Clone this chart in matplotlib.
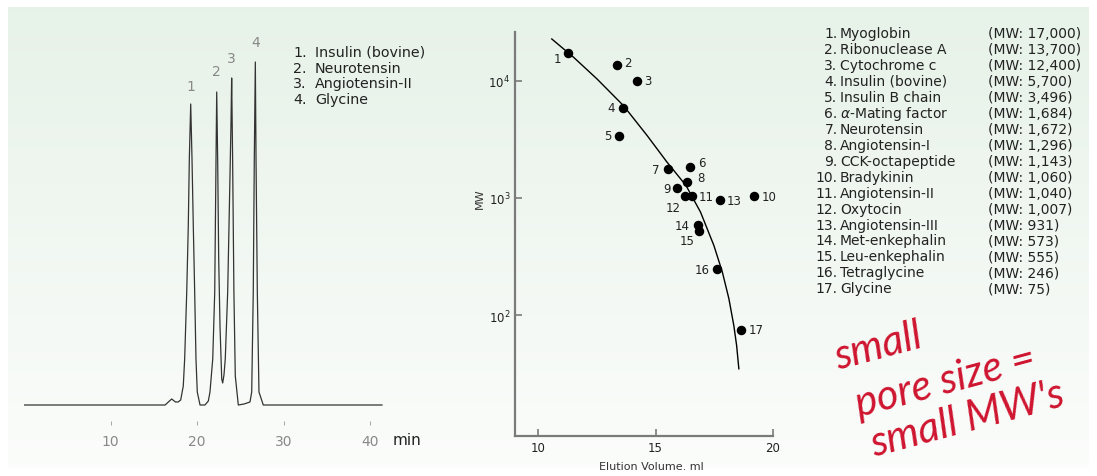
import matplotlib.pyplot as plt
import numpy as np
from matplotlib.ticker import FixedLocator, NullLocator

# chromatogram trace (min, detector signal in arbitrary units)
trace_t = [0, 16.3, 16.8, 17.06, 17.5, 17.8, 18.1, 18.4, 18.56, 18.8, 18.98, 19.1,
           19.26, 19.41, 19.56, 19.72, 19.87, 20.02, 20.34, 20.91, 21.3, 21.49, 21.81,
           22.04, 22.19, 22.27, 22.38, 22.5, 22.65, 22.85, 22.96, 23.11, 23.26, 23.54,
           23.77, 23.92, 24.0, 24.11, 24.26, 24.42, 24.77, 25.43, 25.78, 26.12, 26.32,
           26.5, 26.62, 26.74, 26.82, 26.97, 27.16, 27.66, 41.4]
trace_y = [0, 0, 4, 6, 3, 3, 5, 19, 46, 113, 179, 246,
           301, 246, 179, 113, 46, 13, 0, 0, 4, 13, 46,
           113, 246, 313, 246, 146, 79, 26, 22, 30, 46, 113,
           213, 280, 327, 246, 113, 29, 0, 1, 2, 3, 13,
           113, 246, 343, 246, 113, 13, 0, 0]
peak_t = [19.26, 22.27, 24.0, 26.74]
peak_lbl = ['1', '2', '3', '4']
left_legend = ['Insulin (bovine)', 'Neurotensin', 'Angiotensin-II', 'Glycine']

# calibration plot
vol = [11.25, 13.35, 14.22, 13.61, 13.42, 16.46, 15.52, 16.35, 15.9, 19.21,
       16.56, 16.24, 17.74, 16.8, 16.84, 17.63, 18.66]
mw = [17100, 13700, 10000, 5820, 3400, 1850, 1780, 1377, 1225, 1047,
      1047, 1047, 962, 589, 520, 245, 75]
lbl_off = [(-10, 5), (11, -2), (11, 0), (-12, -1), (-11, 0), (12, -4), (-12, 1),
           (14, -4), (-10, 1), (15, 1), (14, 1), (-11, 12), (14, 1), (-16, 1),
           (-12, 9), (-15, 0), (15, 0)]
curve_v = [10.57, 11.50, 12.50, 13.63, 14.64, 15.49, 16.30, 16.92, 17.49, 17.85,
           18.13, 18.34, 18.46, 18.555]
curve_mw = [22670, 15830, 10340, 6120, 3400, 2015, 1274, 755, 392, 233,
            138, 81.5, 55, 34.8]

names = ['Myoglobin', 'Ribonuclease A', 'Cytochrome c', 'Insulin (bovine)',
         'Insulin B chain', r'$\alpha$-Mating factor', 'Neurotensin', 'Angiotensin-I',
         'CCK-octapeptide', 'Bradykinin', 'Angiotensin-II', 'Oxytocin',
         'Angiotensin-III', 'Met-enkephalin', 'Leu-enkephalin', 'Tetraglycine', 'Glycine']
mw_txt = ['17,000', '13,700', '12,400', '5,700', '3,496', '1,684', '1,672', '1,296',
          '1,143', '1,060', '1,040', '1,007', '931', '573', '555', '246', '75']

W, H = 1097, 477
fig = plt.figure(figsize=(W / 100, H / 100), dpi=100)
plt.rcParams['font.family'] = ['DejaVu Sans']
plt.rcParams['mathtext.fontset'] = 'dejavusans'


def fx(px):
    return px / W


def fy(py):
    return 1 - py / H


# background panel with soft green gradient
bg = fig.add_axes([0, 0, 1, 1], zorder=-5)
grad = np.linspace(0, 1, 256).reshape(-1, 1)
top = np.array([0.905, 0.949, 0.910])
bot = np.array([0.985, 0.990, 0.985])
img = top + (bot - top) * grad[..., None]
bg.imshow(img, extent=[8, W - 8, H - 8, 8], aspect='auto')
bg.set_xlim(0, W)
bg.set_ylim(H, 0)
bg.axis('off')

# left: chromatogram
px_per_min = 8.64
ax1 = fig.add_axes([fx(24.3), fy(426), fx(44 * px_per_min), 390 / H])
ax1.patch.set_alpha(0)
ax1.plot(trace_t, trace_y, color='#333333', lw=0.9)
ax1.set_xlim(0, 44)
ax1.set_ylim(-20, 370)
for s in ax1.spines.values():
    s.set_visible(False)
ax1.set_yticks([])
ax1.set_xticks([10, 20, 30, 40])
ax1.tick_params(axis='x', direction='in', length=3, width=0.6, color='#999999',
                labelcolor='#888888', labelsize=10, pad=6.5)
for t, l, h in zip(peak_t, peak_lbl, [319, 334, 347, 363]):
    ax1.text(t, h, l, ha='center', va='center', color='#888888', fontsize=10)
ax1.text(44.3, -35, 'min', ha='center', va='center', fontsize=11, color='#222222',
         clip_on=False)
for i, name in enumerate(left_legend):
    y = 53 + i * 15.6
    fig.text(fx(293), fy(y), f'{i + 1}.', ha='left', va='center', fontsize=10.3,
             color='#222222')
    fig.text(fx(315), fy(y), name, ha='left', va='center', fontsize=10.3,
             color='#222222')

# middle: MW vs elution volume
ax2 = fig.add_axes([fx(515), fy(436.7), fx(257.7), 403.7 / H])
ax2.patch.set_alpha(0)
ax2.set_yscale('log')
ax2.set_xlim(9, 20)
ax2.set_ylim(9.35, 26000)
ax2.plot(curve_v, curve_mw, color='black', lw=1.0)
ax2.scatter(vol, mw, s=34, color='black', zorder=3)
for i, (v, m) in enumerate(zip(vol, mw)):
    dx, dy = lbl_off[i]
    ax2.annotate(str(i + 1), (v, m), xytext=(dx, -dy), textcoords='offset pixels',
                 ha='center', va='center', fontsize=8.5, color='#222222')
for side in ['top', 'right']:
    ax2.spines[side].set_visible(False)
for side in ['left', 'bottom']:
    ax2.spines[side].set_color('#7a7a7a')
    ax2.spines[side].set_linewidth(1.6)
ax2.xaxis.set_major_locator(FixedLocator([10, 15, 20]))
ax2.yaxis.set_major_locator(FixedLocator([1e2, 1e3, 1e4]))
ax2.yaxis.set_minor_locator(NullLocator())
ax2.tick_params(direction='in', length=5, width=1.2, color='#7a7a7a',
                labelsize=8.5, labelcolor='#222222', pad=3.5)
ax2.set_ylabel('MW', fontsize=8, color='#333333')
ax2.yaxis.label.set_va('center')
ax2.yaxis.set_label_coords((480 - 515) / 257.7, (436.7 - 199) / 403.7)
ax2.set_xlabel('Elution Volume. ml', fontsize=8, color='#333333')
ax2.xaxis.label.set_va('center')
ax2.xaxis.set_label_coords((651.7 - 515) / 257.7, (436.7 - 467) / 403.7)

# right: standards list
for i in range(17):
    y = 34 + i * 15.96
    fig.text(fx(837.5), fy(y), f'{i + 1}.', ha='right', va='center', fontsize=10,
             color='#222222')
    fig.text(fx(840), fy(y), names[i], ha='left', va='center', fontsize=10,
             color='#222222')
    fig.text(fx(988.3), fy(y), f'(MW: {mw_txt[i]})', ha='left', va='center',
             fontsize=10, color='#222222')

# handwritten note
red = '#cf1530'
for txt, (x, y) in zip(['small', 'pore size =', "small MW's"],
                       [(878, 347), (945, 382), (967, 420)]):
    fig.text(fx(x), fy(y), txt, ha='center', va='center', rotation=15,
             rotation_mode='anchor', fontsize=30, color=red, style='italic',
             family=['Lato', 'DejaVu Sans'])

fig.savefig('out.png', dpi=100)
